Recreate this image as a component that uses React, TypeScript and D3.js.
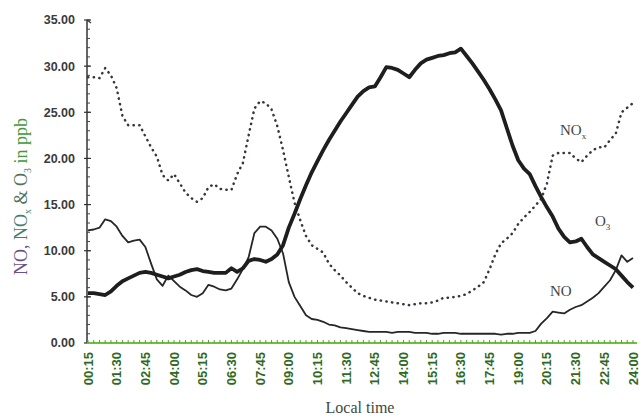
import React from "react";
import * as d3 from "d3";

// 15-minute readings from 00:15 to 24:00 (96 samples)
const o3: number[] = [
  5.4, 5.4, 5.3, 5.2, 5.6, 6.2, 6.7, 7.0, 7.3, 7.6, 7.7, 7.6, 7.4, 7.2, 7.0, 7.2,
  7.4, 7.7, 7.9, 8.0, 7.8, 7.7, 7.6, 7.6, 7.6, 8.1, 7.7, 8.1, 8.9, 9.1, 9.0, 8.8,
  9.1, 9.6, 10.6, 12.5, 14.0, 15.6, 17.1, 18.5, 19.7, 20.9, 22.0, 23.0, 24.0, 24.9, 25.8, 26.7,
  27.3, 27.7, 27.8, 28.8, 29.9, 29.8, 29.6, 29.2, 28.8, 29.6, 30.3, 30.7, 30.9, 31.1, 31.2, 31.4,
  31.5, 31.9, 31.1, 30.3, 29.4, 28.5, 27.5, 26.4, 25.2, 23.3, 21.4, 19.8, 18.9, 18.3, 17.0, 15.8,
  14.7, 13.7, 12.4, 11.5, 10.9, 11.0, 11.3, 10.4, 9.6, 9.2, 8.8, 8.4, 8.0, 7.3, 6.6, 6.0,
];

const no: number[] = [
  12.2, 12.3, 12.5, 13.4, 13.2, 12.6, 11.6, 10.9, 11.1, 11.2, 10.4, 8.6, 6.9, 6.2, 7.3, 6.7,
  6.1, 5.7, 5.2, 5.0, 5.4, 6.3, 6.1, 5.8, 5.7, 5.9, 6.9, 8.0, 9.3, 11.9, 12.6, 12.6,
  12.2, 11.3, 9.7, 6.6, 5.0, 4.0, 3.0, 2.6, 2.5, 2.3, 2.0, 1.9, 1.7, 1.6, 1.5, 1.4,
  1.3, 1.2, 1.2, 1.2, 1.2, 1.1, 1.2, 1.2, 1.2, 1.1, 1.1, 1.1, 1.0, 1.0, 1.1, 1.1,
  1.1, 1.0, 1.0, 1.0, 1.0, 1.0, 1.0, 1.0, 0.9, 1.0, 1.0, 1.1, 1.1, 1.1, 1.3, 2.1,
  2.7, 3.4, 3.3, 3.2, 3.6, 3.9, 4.1, 4.5, 4.9, 5.4, 6.1, 6.8, 7.9, 9.5, 8.8, 9.2,
];

const nox: number[] = [
  28.8, 28.8, 28.7, 29.8, 29.0, 27.6, 24.6, 23.6, 23.6, 23.6, 22.4, 21.2, 20.2, 18.2, 17.6, 18.3,
  17.3, 16.3, 15.7, 15.3, 15.7, 16.9, 17.2, 16.7, 16.6, 16.6, 18.3, 19.5, 22.5, 25.4, 26.2, 26.0,
  25.3, 23.5, 20.9, 18.0, 15.2, 13.3, 11.6, 10.6, 10.2, 9.8, 8.6, 7.9, 7.3, 6.6, 6.0, 5.4,
  5.1, 4.9, 4.7, 4.6, 4.5, 4.4, 4.3, 4.2, 4.1, 4.2, 4.3, 4.3, 4.4, 4.6, 4.9, 4.9,
  5.0, 5.1, 5.3, 5.7, 6.1, 6.6, 8.0, 9.6, 10.8, 11.3, 11.9, 12.9, 13.6, 14.2, 14.9, 15.6,
  17.3, 20.3, 20.6, 20.6, 20.6, 20.0, 19.6, 20.3, 20.9, 21.2, 21.2, 22.0, 22.7, 25.0, 25.5, 26.0,
];

const timeLabels: string[] = [
  "00:15", "01:30", "02:45", "04:00", "05:15", "06:30", "07:45", "09:00", "10:15", "11:30",
  "12:45", "14:00", "15:15", "16:30", "17:45", "19:00", "20:15", "21:30", "22:45", "24:00",
];
const labelEvery = 5;

const yTicks: number[] = [0, 5, 10, 15, 20, 25, 30, 35];

const W = 639;
const H = 418;
const left = 87;
const right = 633;
const top = 20;
const bottom = 343;

export default function App() {
  const x = d3.scaleLinear().domain([0, o3.length - 1]).range([left + 1, right]);
  const y = d3.scaleLinear().domain([0, 35]).range([bottom, top]);

  const line = d3
    .line<number>()
    .x((_, i) => x(i))
    .y((d) => y(d))
    .curve(d3.curveLinear);

  const minorY = d3.range(0, 35.01, 1);
  const minorX = d3.range(0, o3.length, 1);

  const tickFont = "'Liberation Sans', Arial, sans-serif";
  const serif = "'Liberation Serif', 'Times New Roman', serif";

  return (
    <svg
      width={W}
      height={H}
      viewBox={`0 0 ${W} ${H}`}
      style={{ position: "absolute", left: 0, top: 0, background: "#fff" }}
    >
      <rect x={0} y={0} width={W} height={H} fill="#fff" />

      {/* y axis */}
      <line x1={left} x2={left} y1={top} y2={bottom} stroke="#333" strokeWidth={1.5} />
      <line x1={left} x2={left + 4} y1={top} y2={top + 3} stroke="#333" strokeWidth={1.2} />
      {minorY.map((v) => (
        <line
          key={`my${v}`}
          x1={left}
          x2={left + 3}
          y1={y(v)}
          y2={y(v)}
          stroke="#444"
          strokeWidth={1}
        />
      ))}
      {yTicks.map((v) => (
        <g key={`yt${v}`}>
          <line x1={left - 3} x2={left + 4} y1={y(v)} y2={y(v)} stroke="#333" strokeWidth={1.2} />
          <text
            x={left - 12}
            y={y(v)}
            dy="0.35em"
            textAnchor="end"
            fontFamily={tickFont}
            fontWeight="bold"
            fontSize={12.5}
            fill="#3a3a3a"
          >
            {v.toFixed(2)}
          </text>
        </g>
      ))}

      {/* x axis */}
      <line x1={left} x2={right + 4} y1={bottom} y2={bottom} stroke="#6cc13a" strokeWidth={2} />
      {minorX.map((i) => (
        <line
          key={`mx${i}`}
          x1={x(i)}
          x2={x(i)}
          y1={bottom}
          y2={bottom - 3}
          stroke="#5a9a3a"
          strokeWidth={1}
        />
      ))}
      {timeLabels.map((t, k) => {
        const xi = x(k * labelEvery);
        return (
          <text
            key={`xt${t}`}
            transform={`translate(${xi + 4.5},${bottom + 9}) rotate(-90)`}
            textAnchor="end"
            fontFamily={tickFont}
            fontWeight="bold"
            fontSize={13}
            fill="#2f6a1e"
          >
            {t}
          </text>
        );
      })}

      {/* series */}
      <path d={line(nox) ?? ""} fill="none" stroke="#3a3340" strokeWidth={2.5} strokeDasharray="0.3 5.4" strokeLinecap="round" />
      <path d={line(no) ?? ""} fill="none" stroke="#262626" strokeWidth={1.8} strokeLinejoin="round" />
      <path d={line(o3) ?? ""} fill="none" stroke="#1e1e1e" strokeWidth={3.8} strokeLinejoin="round" />

      {/* series labels */}
      <text x={560} y={135} fontFamily={serif} fontSize={15} fill="#444">
        NO<tspan fontSize={9} dy={4}>x</tspan>
      </text>
      <text x={595} y={226} fontFamily={serif} fontSize={15} fill="#444">
        O<tspan fontSize={9} dy={4}>3</tspan>
      </text>
      <text x={550} y={296} fontFamily={serif} fontSize={15} fill="#444">
        NO
      </text>

      {/* axis titles */}
      <text
        transform={`translate(27,${(top + bottom) / 2 + 15}) rotate(-90)`}
        textAnchor="middle"
        fontFamily={serif}
        fontSize={18}
      >
        <tspan fill="#6a4f8a">NO, </tspan>
        <tspan fill="#3f8070">NO</tspan>
        <tspan fill="#3f8070" fontSize={10} dy={4}>x</tspan>
        <tspan fill="#56705a" dy={-4}> &amp; O</tspan>
        <tspan fill="#56705a" fontSize={10} dy={4}>3</tspan>
        <tspan fill="#3d9a3d" dy={-4}> in ppb</tspan>
      </text>
      <text
        x={360}
        y={413}
        textAnchor="middle"
        fontFamily={serif}
        fontSize={16}
        fill="#3f4a3f"
      >
        Local time
      </text>
    </svg>
  );
}
